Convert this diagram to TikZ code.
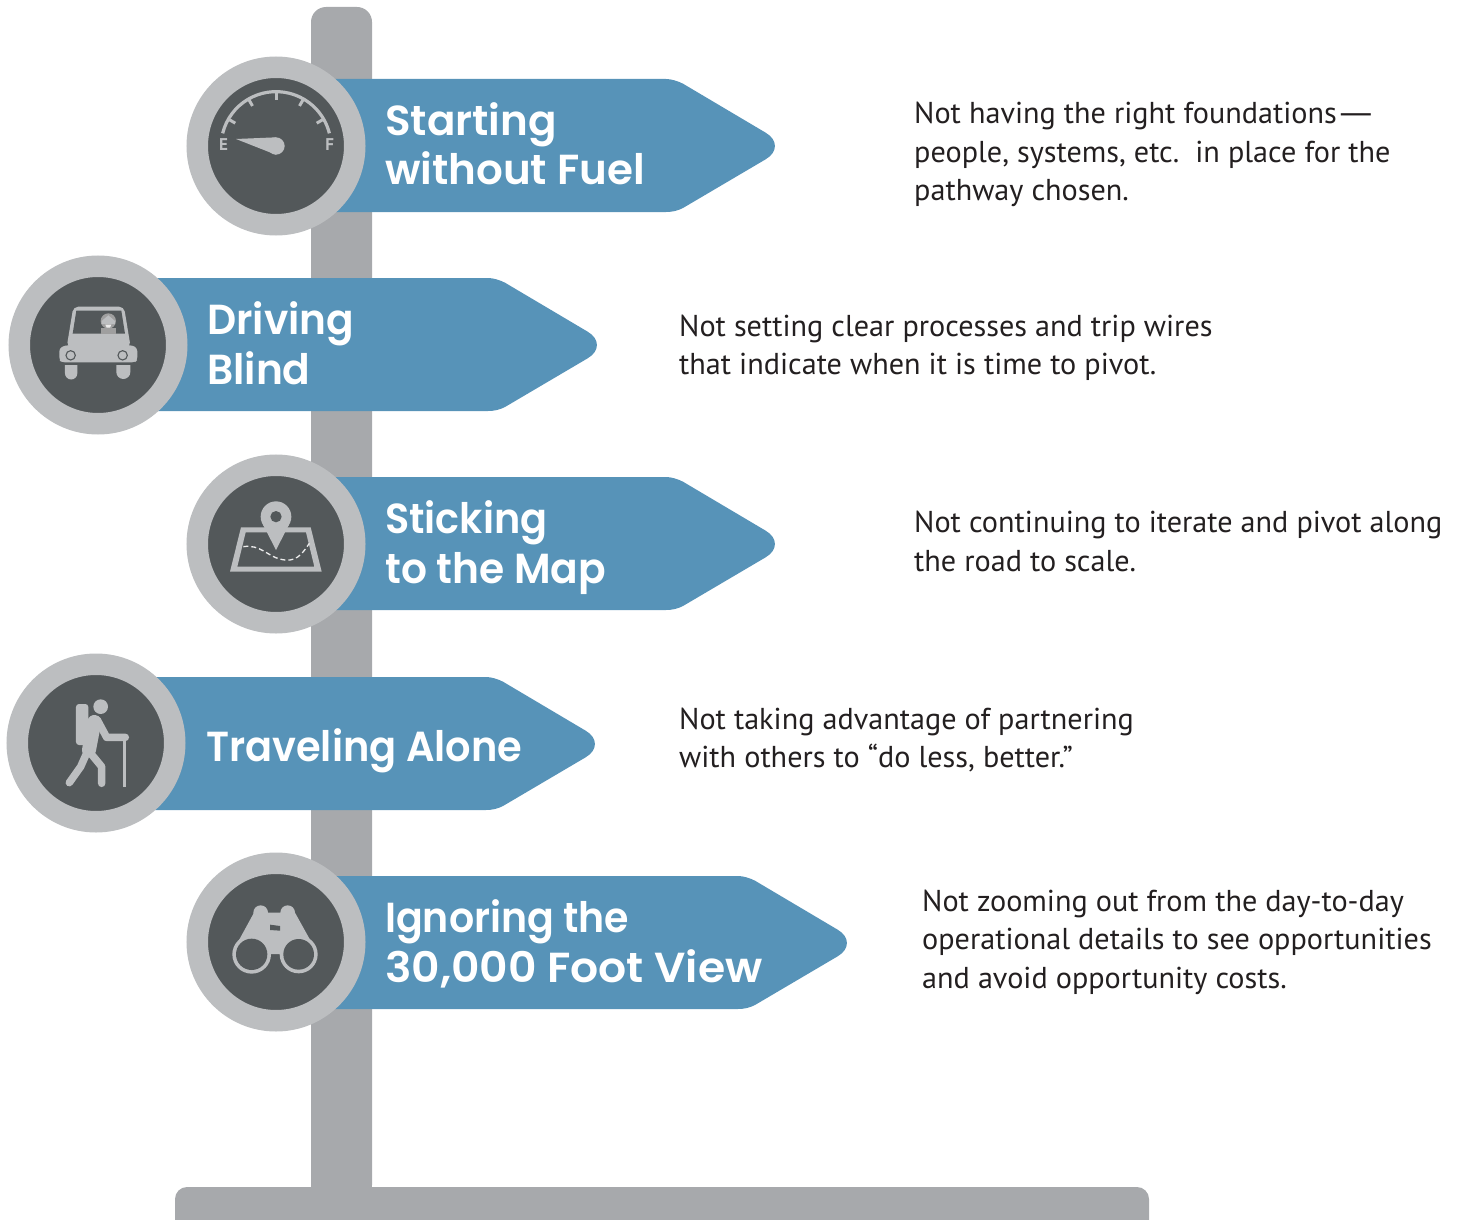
\documentclass[tikz,border=0pt]{standalone}
\usepackage{fontspec}
\usepackage{graphicx}
\setmainfont{PT Sans}
\newfontfamily\headfont{Poppins SemiBold}
\definecolor{signblue}{HTML}{5793B8}
\definecolor{postgray}{HTML}{A7A9AC}
\definecolor{ringgray}{HTML}{BCBEC0}
\definecolor{darkgray}{HTML}{53585A}
\definecolor{bodyink}{HTML}{231F20}
\tikzset{
  ringbadge/.style={circle,draw=ringgray,fill=darkgray,line width=21.5pt,minimum size=157.5pt,inner sep=0pt},
  headtext/.style={anchor=base west,inner sep=0pt,text=white,align=left,font=\headfont\fontsize{42}{50}\selectfont},
  bodytext/.style={anchor=base west,inner sep=0pt,text=bodyink,align=left,font=\fontsize{30.2}{38.5}\selectfont},
  iconline/.style={draw=ringgray,line cap=round,line join=round},
  gaugeletter/.style={text=ringgray,inner sep=0pt,font=\bfseries\fontsize{17}{17}\selectfont},
  zoomed/.style={x=0.33333pt,y=-0.33333pt}
}
% #1 = x of the shoulder, #2 = y of the top edge, #3 = left end relative to the shoulder
\newcommand{\signboard}[3]{%
  \fill[signblue,shift={(#1,#2)}] (#3,0) -- (-9,0) .. controls (-4,0) and (3,2) .. (8,4.7)
    -- (90.7,53.7) .. controls (103,61) and (103,73) .. (90.7,80.3)
    -- (8,129) .. controls (3,131.5) and (-2,133) .. (-9,133) -- (#3,133) -- cycle;}
\newcommand{\sx}[2]{\scalebox{#1}[1]{#2}}
\begin{document}
\begin{tikzpicture}[x=1pt,y=-1pt]
\useasboundingbox (0,0) rectangle (1465,1220);
% post and base
\fill[postgray,rounded corners=15pt] (311,1200) -- (311,7) -- (372,7) -- (372,1200) -- cycle;
\fill[postgray] (175,1220) [rounded corners=12pt] -- (175,1187) -- (1149,1187) [sharp corners] -- (1149,1220) -- cycle;
% signs
\signboard{675}{79}{-375}
\signboard{497}{278}{-377}
\signboard{675}{477}{-375}
\signboard{495}{677}{-375}
\signboard{747}{876}{-447}
% badges
\node[ringbadge] (b1) at (276,146) {};
\node[ringbadge] (b2) at (98,345) {};
\node[ringbadge] (b3) at (276,544) {};
\node[ringbadge] (b4) at (96,743) {};
\node[ringbadge] (b5) at (276,942) {};
% gauge
\begin{scope}[shift={(180,50)},zoomed]
  \draw[iconline,line cap=butt,line width=3.2pt] (128,250) arc[start angle=-166,end angle=-14,radius=165];
  \foreach \a in {30,60,90,120,150}
    \draw[draw=ringgray,line width=3pt] (288,290) ++(-\a:165) -- ++(180-\a:24);
  \fill[ringgray] (168,267) -- (288,262) -- (288,314) -- (272,308) -- cycle;
  \fill[ringgray] (288,288) circle[radius=26];
  \node[gaugeletter] (gaugeE) at (131,285) {E};
  \node[gaugeletter] (gaugeF) at (449,285) {F};
\end{scope}
% car
\begin{scope}[shift={(0,250)},zoomed]
  \fill[ringgray] (195,345) -- (232,345) -- (232,370) arc[start angle=0,end angle=180,radius=18.5] -- cycle;
  \fill[ringgray] (349,345) -- (391,345) -- (391,366) arc[start angle=0,end angle=180,radius=21] -- cycle;
  \fill[ringgray,rounded corners=5pt] (200,292) -- (220,170) -- (372,170) -- (392,292) -- cycle;
  \fill[ringgray,rounded corners=3pt] (178,295) -- (195,286) -- (398,286) -- (412,295) -- (412,330) -- (405,337) -- (185,337) -- (178,330) -- cycle;
  \fill[darkgray] (229,182) -- (364,182) -- (375,251) -- (218,251) -- cycle;
  \fill[gray!75!white] (303,251) -- (303,235) -- (347,235) -- (347,251) -- cycle;
  \fill[gray!75!white] (325,213) circle[radius=23];
  \fill[ringgray] (305,213) -- (325,196) -- (345,213) -- (345,222) -- (305,222) -- cycle;
  \fill[white!85!gray] (316,224) -- (334,224) -- (330,233) -- (320,233) -- cycle;
  \filldraw[fill=ringgray,draw=darkgray,line width=1.1pt] (212,316) circle[radius=14];
  \filldraw[fill=ringgray,draw=darkgray,line width=1.1pt] (368,316) circle[radius=14];
\end{scope}
% map
\begin{scope}[shift={(180,450)},zoomed]
  \fill[ringgray,even odd rule] (183,232) -- (392,232) -- (425,365) -- (150,365) -- cycle
     (197,247) -- (378,247) -- (403,350) -- (172,350) -- cycle;
  \draw[white!85!gray,line width=1.3pt,dash pattern=on 5pt off 3pt] (190,290) .. controls (240,282) and (265,320) .. (300,327) .. controls (345,340) and (365,315) .. (388,280);
  \fill[ringgray] (288,300) -- (249,224) -- (327,224) -- cycle;
  \fill[ringgray] (288,200) circle[radius=46];
  \fill[darkgray] (288,200) circle[radius=17];
\end{scope}
% hiker
\begin{scope}[shift={(0,650)},zoomed]
  \fill[ringgray] (302,170) circle[radius=22];
  \fill[ringgray,rounded corners=3pt] (228,162) -- (265,162) -- (265,285) -- (228,285) -- cycle;
  \draw[iconline,line width=14pt] (283,216) -- (267,300);
  \draw[iconline,line width=7.5pt] (292,210) -- (320,262) -- (376,262);
  \draw[iconline,line width=7.5pt] (262,305) -- (242,350) -- (208,398);
  \draw[iconline,line width=7.5pt] (272,310) -- (305,350) -- (305,400);
  \draw[draw=ringgray,line width=3.3pt] (373,262) -- (373,411);
\end{scope}
% binoculars
\begin{scope}[shift={(180,850)},zoomed]
  \fill[ringgray] (158,305) -- (222,188) -- (265,188) -- (300,188) -- (345,188) -- (410,305) -- (356,312) -- (215,312) -- cycle;
  \fill[ringgray] (242,188) circle[radius=22];
  \fill[ringgray] (323,188) circle[radius=22];
  \fill[ringgray] (215,313) circle[radius=58];
  \fill[ringgray] (356,313) circle[radius=57];
  \fill[darkgray] (215,313) circle[radius=47];
  \fill[darkgray] (356,313) circle[radius=46];
  \fill[darkgray] (270,224) -- (300,228) -- (300,242) -- (270,240) -- cycle;
\end{scope}
% headings
\node[headtext] (h1) at (385,185) {Starting\\without Fuel};
\node[headtext] (h2) at (207,384) {\sx{.967}{Driving}\\\sx{.97}{Blind}};
\node[headtext] (h3) at (385,583) {\sx{.947}{Sticking}\\\sx{.97}{to the Map}};
\node[headtext] (h4) at (206,761) {\sx{.95}{Traveling Alone}};
\node[headtext] (h5) at (385,982) {\sx{.94}{Ignoring the}\\\sx{1.05}{30,000 Foot View}};
% descriptions
\node[bodytext] (t1) at (914,200.5) {Not having the right foundations\kern-2pt\sx{1.7}{—}\\people, systems, etc.\ \ in place for the\\pathway chosen.};
\node[bodytext] (t2) at (679,374.5) {Not setting clear processes and trip wires\\that indicate when it is time to pivot.};
\node[bodytext] (t3) at (914,571) {Not continuing to iterate and pivot along\\the road to scale.};
\node[bodytext] (t4) at (679,767.5) {Not taking advantage of partnering\\with others to “do less, better.”};
\node[bodytext] (t5) at (922,988) {Not zooming out from the day-to-day\\operational details to see opportunities\\and avoid opportunity costs.};
\end{tikzpicture}
\end{document}
